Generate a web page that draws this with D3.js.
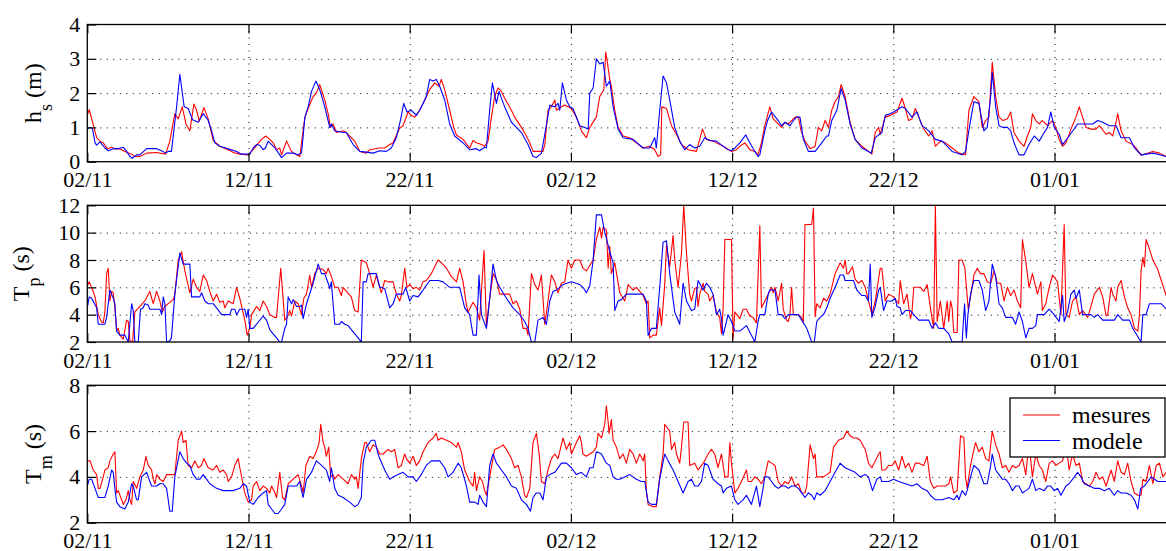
<!DOCTYPE html>
<html>
<head>
<meta charset="utf-8">
<script src="https://cdn.jsdelivr.net/npm/d3@7"></script>
<style>
  body { margin: 0; background: #fff; }
  svg { display: block; }
</style>
</head>
<body>
<svg id="chart" width="1166" height="551"></svg>
<script>
// Time axis: days elapsed since 02/11, tick every 10 days
const dayTicks = [0, 10, 20, 30, 40, 50, 60];
const dayTickLabels = ["02/11", "12/11", "22/11", "02/12", "12/12", "22/12", "01/01"];
const dayRange = [0, 67.5];

// Significant wave height h_s (m): [day, value]
const hsMes = [[0,1.35],[0.12,1.52],[0.58,0.7],[0.79,0.6],[0.99,0.55],[1.24,0.38],[1.51,0.42],[1.71,0.37],[2.02,0.38],[2.33,0.3],[2.75,0.22],[2.95,0.15],[3.26,0.15],[3.68,0.25],[4.3,0.27],[4.86,0.22],[5.12,0.6],[5.43,1.4],[5.64,1.25],[5.89,1.6],[6.12,1.1],[6.36,0.9],[6.61,1.68],[6.78,1.5],[6.94,1.18],[7.23,1.58],[7.5,1.25],[7.81,0.62],[8.22,0.45],[8.84,0.33],[9.05,0.27],[9.46,0.22],[9.98,0.2],[10.29,0.35],[10.8,0.65],[11.07,0.75],[11.32,0.65],[11.53,0.55],[11.74,0.35],[11.94,0.4],[12.05,0.2],[12.36,0.6],[12.67,0.3],[12.98,0.2],[13.18,0.15],[13.5,1.3],[13.7,1.55],[14.01,1.9],[14.21,2.0],[14.42,2.25],[14.73,1.8],[14.94,1.4],[15.08,1.0],[15.25,1.1],[15.45,0.85],[15.87,0.9],[16.07,0.85],[16.59,0.6],[16.8,0.4],[16.9,0.3],[17.31,0.25],[17.52,0.35],[18.14,0.4],[18.45,0.4],[18.66,0.47],[18.97,0.55],[19.38,0.98],[19.59,1.05],[19.9,1.45],[20.1,1.35],[20.31,1.3],[20.62,1.5],[20.93,1.8],[21.24,2.1],[21.55,2.3],[21.82,2.2],[21.96,2.4],[22.17,2.1],[22.48,1.5],[22.73,1.0],[22.9,0.78],[23.31,0.65],[23.72,0.4],[23.93,0.62],[24.14,0.55],[24.45,0.5],[24.65,0.45],[24.86,0.6],[25.07,1.3],[25.27,1.9],[25.48,2.15],[25.69,2.05],[25.89,1.85],[26.31,1.5],[26.51,1.3],[26.93,1.0],[27.24,0.75],[27.45,0.55],[27.65,0.3],[28.27,0.3],[28.38,0.5],[28.58,1.5],[28.79,1.6],[29.0,1.8],[29.1,1.5],[29.41,1.6],[29.62,1.65],[30.03,1.55],[30.34,1.3],[30.65,0.9],[30.96,0.7],[31.17,1.0],[31.58,1.3],[31.79,1.9],[32.04,2.1],[32.16,3.2],[32.26,2.9],[32.41,2.4],[32.51,2.2],[32.72,1.5],[32.93,1.0],[33.24,0.75],[33.65,0.7],[34.06,0.55],[34.48,0.4],[34.89,0.45],[35.2,0.35],[35.41,0.15],[35.57,0.2],[35.64,1.6],[35.93,1.55],[36.24,1.05],[36.55,0.8],[36.86,0.5],[37.27,0.35],[37.79,0.3],[38.16,0.95],[38.41,0.65],[38.82,0.6],[39.44,0.45],[39.96,0.3],[40.27,0.35],[40.48,0.45],[40.79,0.55],[41.1,0.35],[41.41,0.3],[41.61,0.2],[41.82,0.55],[42.03,1.05],[42.34,1.6],[42.55,1.25],[42.86,1.1],[43.07,1.0],[43.28,1.15],[43.49,1.1],[43.69,1.2],[43.9,1.3],[44.11,1.3],[44.28,0.9],[44.52,0.6],[44.84,0.38],[45.15,0.45],[45.35,1.0],[45.56,0.9],[45.77,1.2],[45.98,1.0],[46.18,1.5],[46.39,1.75],[46.6,1.9],[46.76,2.25],[47.01,1.9],[47.32,1.15],[47.63,0.65],[48.05,0.45],[48.46,0.3],[48.67,0.22],[48.88,0.85],[49.09,1.0],[49.19,0.8],[49.5,1.3],[49.81,1.35],[50.02,1.4],[50.23,1.45],[50.54,1.85],[50.75,1.55],[50.95,1.2],[51.16,1.25],[51.37,1.55],[51.58,1.3],[51.89,0.95],[52.2,0.75],[52.41,0.9],[52.61,0.45],[52.92,0.6],[53.24,0.55],[53.65,0.4],[54.07,0.25],[54.48,0.2],[54.69,1.5],[55.0,1.9],[55.31,1.75],[55.52,1.0],[55.73,1.2],[55.93,1.3],[56.14,2.9],[56.35,1.9],[56.56,1.3],[56.8,1.2],[57.08,1.25],[57.28,1.45],[57.49,0.85],[57.8,0.6],[58.11,0.45],[58.32,0.75],[58.53,1.0],[58.63,1.4],[58.84,1.2],[59.05,1.1],[59.25,1.2],[59.57,1.05],[59.88,1.2],[60.08,1.0],[60.29,0.65],[60.5,0.45],[60.71,0.55],[61.02,0.95],[61.33,1.3],[61.54,1.6],[61.74,1.3],[61.95,1.0],[62.26,0.95],[62.57,0.95],[62.78,1.05],[63.2,0.8],[63.4,0.85],[63.61,0.75],[63.82,1.15],[63.92,1.4],[64.13,0.9],[64.44,0.6],[64.85,0.5],[65.06,0.4],[65.37,0.2],[65.48,0.2],[66.1,0.3],[66.51,0.25],[66.93,0.15],[67.5,0.12]];
const hsMod = [[0,0.95],[0.17,1.0],[0.33,0.95],[0.48,0.55],[0.58,0.48],[0.79,0.58],[1.09,0.4],[1.3,0.32],[1.61,0.38],[1.92,0.38],[2.23,0.42],[2.44,0.3],[2.64,0.15],[2.79,0.1],[3.06,0.2],[3.26,0.2],[3.68,0.38],[4.3,0.38],[4.6,0.32],[4.86,0.25],[5.02,0.3],[5.22,0.3],[5.54,1.6],[5.74,2.55],[6.01,1.6],[6.26,1.55],[6.53,1.22],[6.88,1.15],[7.19,1.4],[7.5,1.2],[7.71,0.9],[7.91,0.55],[8.22,0.45],[8.84,0.36],[9.26,0.3],[9.57,0.22],[10.08,0.22],[10.29,0.4],[10.5,0.5],[10.7,0.48],[10.91,0.35],[11.05,0.4],[11.22,0.6],[11.43,0.5],[11.64,0.4],[11.94,0.2],[12.05,0.12],[12.36,0.25],[12.77,0.25],[13.08,0.2],[13.29,0.25],[13.5,1.3],[13.7,1.6],[13.91,2.05],[14.18,2.35],[14.42,2.1],[14.73,1.6],[15.04,1.0],[15.14,1.1],[15.35,0.9],[15.87,0.85],[16.07,0.85],[16.49,0.5],[16.9,0.3],[17.31,0.28],[17.73,0.25],[18.14,0.32],[18.55,0.3],[18.86,0.4],[19.17,0.7],[19.42,1.2],[19.63,1.7],[19.83,1.45],[20.1,1.5],[20.41,1.35],[20.62,1.5],[20.83,1.7],[21.03,1.9],[21.24,2.4],[21.45,2.35],[21.65,2.4],[21.86,2.2],[22.17,1.8],[22.48,1.1],[22.79,0.75],[23.31,0.55],[23.72,0.35],[24.14,0.38],[24.34,0.32],[24.65,0.42],[24.76,0.4],[24.96,1.5],[25.13,2.3],[25.38,1.7],[25.54,2.05],[25.89,1.6],[26.31,1.15],[26.62,1.0],[26.93,0.85],[27.34,0.5],[27.65,0.15],[27.86,0.12],[28.17,0.25],[28.38,0.8],[28.69,1.65],[29.0,1.6],[29.2,1.7],[29.31,1.5],[29.47,2.3],[29.72,1.8],[29.93,1.6],[30.13,1.55],[30.55,1.05],[30.86,1.0],[31.07,0.95],[31.17,2.0],[31.38,2.15],[31.58,3.0],[31.79,2.85],[32.0,2.9],[32.2,2.2],[32.41,2.35],[32.62,1.6],[32.93,0.95],[33.24,0.7],[33.86,0.65],[34.48,0.4],[34.89,0.4],[35.2,0.7],[35.3,0.4],[35.51,1.5],[35.72,2.5],[35.93,2.3],[36.13,1.8],[36.44,1.0],[36.75,0.6],[37.06,0.35],[37.37,0.5],[37.68,0.4],[37.99,0.45],[38.3,0.7],[38.61,0.62],[39.03,0.6],[39.65,0.38],[39.96,0.32],[40.17,0.4],[40.48,0.55],[40.85,0.78],[41.1,0.55],[41.41,0.3],[41.61,0.15],[41.72,0.2],[42.03,0.9],[42.2,1.2],[42.45,1.45],[42.86,1.2],[43.07,1.05],[43.28,1.15],[43.59,1.05],[43.8,1.2],[44.0,1.3],[44.21,1.3],[44.42,0.65],[44.73,0.3],[45.15,0.3],[45.56,0.55],[45.87,0.75],[45.98,0.75],[46.18,1.2],[46.5,1.5],[46.76,2.13],[47.01,1.8],[47.32,1.1],[47.63,0.65],[48.05,0.4],[48.46,0.3],[48.63,0.25],[48.88,0.7],[49.29,0.85],[49.5,1.35],[49.81,1.4],[50.02,1.45],[50.54,1.6],[50.75,1.55],[51.16,1.3],[51.47,1.45],[51.78,1.05],[52.2,0.9],[52.61,0.65],[53.03,0.6],[53.65,0.3],[54.27,0.2],[54.48,0.3],[54.79,1.2],[55.0,1.75],[55.31,1.7],[55.62,0.9],[55.83,1.0],[56.04,1.9],[56.14,2.6],[56.35,1.6],[56.56,1.05],[56.8,1.0],[57.08,1.0],[57.28,0.9],[57.49,0.55],[57.8,0.2],[58.11,0.2],[58.42,0.5],[58.74,0.75],[59.05,0.6],[59.36,0.85],[59.57,1.0],[59.77,1.45],[59.98,1.0],[60.29,0.8],[60.5,0.5],[60.91,0.75],[61.43,1.1],[61.64,1.1],[61.95,1.1],[62.37,1.1],[62.68,1.2],[62.99,1.15],[63.4,1.05],[63.82,1.05],[64.13,0.7],[64.65,0.7],[64.96,0.4],[65.37,0.2],[66.1,0.25],[66.51,0.2],[66.93,0.15],[67.5,0.12]];

// Peak period T_p (s): [day, value]
const tpMes = [[0,6.1],[0.12,6.4],[0.33,5.8],[0.48,5.3],[0.68,4.0],[0.89,3.45],[0.99,3.4],[1.09,4.2],[1.2,7.0],[1.3,7.4],[1.4,5.0],[1.51,5.7],[1.61,5.6],[1.71,4.5],[1.82,2.8],[1.92,3.0],[2.02,2.5],[2.23,2.2],[2.44,3.6],[2.54,3.5],[2.64,2.1],[2.81,2.0],[2.95,4.2],[3.26,4.6],[3.57,5.0],[3.88,5.7],[4.09,4.8],[4.3,5.7],[4.5,5.0],[4.65,4.2],[4.81,4.6],[5.12,4.9],[5.33,5.1],[5.43,5.5],[5.64,8.0],[5.85,8.6],[6.05,7.2],[6.36,5.6],[6.57,6.6],[6.78,6.0],[6.98,5.7],[7.19,6.9],[7.4,6.5],[7.6,5.7],[7.81,5.0],[8.02,5.5],[8.22,4.9],[8.43,5.0],[8.53,4.5],[8.74,5.0],[9.05,4.8],[9.26,6.0],[9.46,5.2],[9.77,3.6],[9.92,2.5],[10.08,3.0],[10.19,4.0],[10.5,4.6],[10.7,4.3],[10.91,5.0],[11.12,4.6],[11.32,4.0],[11.64,3.8],[11.74,3.8],[12.0,7.4],[12.25,3.6],[12.4,3.8],[12.56,4.3],[12.67,3.9],[12.87,5.0],[13.08,4.8],[13.29,4.0],[13.43,5.2],[13.6,5.5],[13.8,6.9],[13.91,6.0],[14.11,7.0],[14.32,7.4],[14.63,7.3],[14.83,7.0],[14.94,7.4],[15.14,6.8],[15.35,6.0],[15.56,6.0],[15.76,5.4],[15.87,6.0],[16.07,5.7],[16.38,5.3],[16.59,4.3],[16.8,4.2],[17.0,8.0],[17.31,7.8],[17.52,7.0],[17.73,6.0],[17.93,6.9],[18.14,6.0],[18.24,5.6],[18.45,6.5],[18.66,6.4],[18.97,6.4],[19.17,5.5],[19.38,5.0],[19.48,5.4],[19.69,7.4],[19.83,6.0],[20.0,6.2],[20.21,5.9],[20.41,6.0],[20.62,5.8],[20.83,6.4],[21.03,6.5],[21.34,7.0],[21.55,7.5],[21.76,8.0],[21.96,7.8],[22.28,7.4],[22.58,6.8],[22.9,6.4],[23.1,7.4],[23.31,6.4],[23.52,4.7],[23.62,4.2],[23.93,4.9],[24.14,4.5],[24.34,3.6],[24.61,8.7],[24.76,3.2],[24.86,4.2],[25.17,7.0],[25.38,6.6],[25.58,5.5],[26.0,5.5],[26.2,5.5],[26.41,4.8],[26.62,5.0],[26.83,4.4],[27.03,3.0],[27.24,3.0],[27.34,2.5],[27.55,7.0],[27.76,6.2],[27.96,5.8],[28.17,6.9],[28.38,3.3],[28.58,5.0],[28.79,6.9],[29.0,6.4],[29.2,5.6],[29.41,6.3],[29.62,6.4],[29.82,8.0],[30.03,7.4],[30.24,8.0],[30.55,8.0],[30.75,7.4],[30.96,7.2],[31.17,7.6],[31.38,8.0],[31.58,9.5],[31.79,10.4],[31.9,9.6],[32.0,10.4],[32.2,10.2],[32.31,7.4],[32.41,9.0],[32.51,7.0],[32.72,7.8],[33.03,5.6],[33.34,5.0],[33.55,6.2],[33.86,5.8],[34.06,6.0],[34.27,5.7],[34.48,5.4],[34.68,4.8],[34.79,5.0],[34.89,2.3],[35.1,2.5],[35.3,2.5],[35.51,4.5],[35.62,3.2],[35.82,6.2],[35.93,9.1],[36.13,7.5],[36.34,9.8],[36.44,8.0],[36.65,6.0],[36.86,8.5],[37.0,12.0],[37.17,8.5],[37.37,5.5],[37.48,5.0],[37.68,5.9],[37.79,6.0],[37.89,4.6],[37.99,5.5],[38.2,6.3],[38.3,5.7],[38.51,5.5],[38.61,5.0],[38.82,5.4],[39.03,4.2],[39.13,4.0],[39.23,3.8],[39.34,2.6],[39.44,4.4],[39.55,9.5],[39.96,9.5],[40.06,2.2],[40.17,4.2],[40.48,3.7],[40.68,4.4],[40.89,4.4],[41.1,3.9],[41.3,3.8],[41.51,3.4],[41.72,10.5],[41.82,4.5],[42.03,5.0],[42.24,5.5],[42.45,6.0],[42.55,5.6],[42.66,6.0],[42.86,5.0],[43.07,6.3],[43.17,4.4],[43.38,3.6],[43.49,3.5],[43.59,4.0],[43.69,6.0],[43.8,4.0],[44.11,4.0],[44.32,3.8],[44.42,3.4],[44.52,10.6],[44.94,10.6],[45.05,11.8],[45.15,3.85],[45.25,4.8],[45.46,4.5],[45.67,5.2],[45.87,5.0],[46.08,5.5],[46.39,7.0],[46.7,7.8],[46.91,7.4],[47.01,8.0],[47.12,7.0],[47.22,7.0],[47.47,7.5],[47.63,6.6],[47.84,6.3],[48.05,6.5],[48.26,6.0],[48.67,4.0],[48.88,5.0],[49.19,7.4],[49.29,7.4],[49.5,5.0],[49.71,5.5],[50.02,5.3],[50.33,4.8],[50.43,6.5],[50.64,4.8],[50.85,5.5],[51.06,3.7],[51.16,4.2],[51.27,6.0],[51.47,6.0],[51.68,6.0],[51.89,5.7],[52.1,6.2],[52.3,4.5],[52.51,3.0],[52.61,12.0],[52.72,3.5],[52.92,5.0],[53.13,3.0],[53.34,5.0],[53.44,3.5],[53.55,5.0],[53.65,4.5],[53.75,2.7],[53.96,2.7],[54.07,8.0],[54.27,8.0],[54.44,7.4],[54.65,4.4],[54.79,5.3],[55.0,6.9],[55.21,7.4],[55.41,7.0],[55.62,7.0],[55.83,6.4],[56.04,6.3],[56.25,7.2],[56.45,6.3],[56.66,6.3],[56.87,5.0],[57.08,6.0],[57.28,5.4],[57.49,5.8],[57.7,5.0],[57.9,4.5],[58.01,9.5],[58.22,7.9],[58.42,6.0],[58.63,7.0],[58.94,5.5],[59.15,6.4],[59.25,4.3],[59.46,4.8],[59.67,6.0],[59.88,6.9],[60.19,6.4],[60.4,4.0],[60.6,10.6],[60.71,4.0],[60.91,3.8],[61.12,5.0],[61.33,5.3],[61.54,4.0],[61.74,4.3],[62.06,3.8],[62.26,4.6],[62.47,5.5],[62.78,6.0],[62.99,5.3],[63.2,3.9],[63.3,4.0],[63.51,6.0],[63.61,5.5],[63.82,5.0],[63.92,6.0],[64.13,6.5],[64.34,5.3],[64.54,4.5],[64.75,4.0],[64.96,3.0],[65.17,2.8],[65.27,4.0],[65.37,7.2],[65.48,8.2],[65.58,7.5],[65.68,9.5],[65.89,8.8],[66.1,8.0],[66.41,7.3],[66.62,6.5],[66.82,5.8],[66.93,5.4],[67.5,5.0]];
const tpMod = [[0,4.5],[0.12,5.3],[0.27,5.2],[0.58,4.5],[0.68,3.3],[1.09,3.3],[1.2,3.8],[1.4,5.8],[1.61,5.2],[1.71,4.8],[1.82,2.8],[2.02,2.5],[2.33,2.5],[2.54,2.0],[2.75,4.8],[2.85,4.3],[2.95,2.0],[3.16,2.0],[3.3,4.4],[3.47,4.5],[3.57,4.8],[3.78,4.7],[3.88,4.4],[4.5,4.4],[4.61,4.0],[4.71,5.3],[4.81,4.8],[4.92,2.0],[5.12,2.1],[5.22,2.3],[5.43,5.5],[5.74,8.5],[5.95,7.7],[6.36,7.7],[6.47,5.3],[6.98,5.3],[7.09,5.6],[7.29,5.0],[7.5,4.8],[7.81,4.8],[8.02,4.5],[8.33,4.0],[8.84,4.0],[8.95,4.4],[9.15,4.4],[9.26,4.0],[9.46,4.4],[9.77,4.4],[9.88,3.8],[9.98,4.4],[10.08,3.0],[10.29,3.0],[10.91,3.9],[11.12,3.6],[11.32,2.9],[11.53,2.6],[11.74,2.3],[11.94,2.0],[12.05,2.0],[12.25,3.0],[12.36,3.3],[12.46,5.3],[12.67,4.8],[12.77,5.1],[12.98,4.6],[13.18,4.6],[13.29,4.7],[13.39,3.7],[13.6,4.8],[14.01,6.3],[14.32,7.7],[14.53,7.0],[14.73,7.0],[14.94,6.3],[15.04,5.9],[15.14,6.4],[15.35,3.3],[15.66,3.3],[15.76,3.5],[15.97,3.3],[16.18,3.2],[16.38,2.9],[16.8,2.3],[17.0,2.0],[17.11,6.4],[17.31,6.4],[17.42,7.0],[17.93,7.0],[18.14,6.0],[18.24,6.0],[18.45,5.9],[18.76,4.5],[18.97,4.8],[19.17,5.5],[19.59,5.5],[19.75,6.0],[20.0,5.0],[20.21,5.4],[20.52,5.3],[20.83,5.8],[21.24,6.5],[21.76,6.5],[22.07,6.4],[22.48,6.0],[23.1,6.0],[23.41,4.5],[23.72,4.0],[23.93,2.5],[24.14,2.5],[24.3,6.9],[24.45,4.0],[24.76,3.0],[24.86,4.0],[25.17,7.7],[25.38,6.5],[25.58,6.0],[26.0,5.2],[26.41,4.5],[26.83,4.0],[27.13,3.5],[27.34,3.0],[27.55,2.0],[27.76,2.0],[27.96,3.6],[28.27,3.8],[28.48,3.3],[28.69,5.0],[28.89,5.7],[29.1,5.8],[29.51,6.2],[30.03,6.4],[30.55,6.2],[30.75,6.0],[30.96,5.6],[31.17,6.1],[31.38,8.0],[31.58,11.3],[31.9,11.3],[32.1,10.0],[32.2,9.6],[32.41,8.6],[32.62,7.8],[32.72,4.3],[32.93,5.0],[33.13,5.1],[33.44,5.5],[34.48,5.5],[34.68,5.0],[34.79,2.5],[35.0,3.0],[35.3,3.0],[35.51,6.0],[35.72,9.3],[35.93,9.4],[36.13,7.0],[36.44,4.2],[36.75,3.3],[36.96,6.3],[37.17,5.0],[37.48,4.3],[37.68,4.4],[37.89,6.5],[38.2,5.8],[38.41,6.3],[38.61,6.0],[38.82,5.5],[39.03,4.0],[39.23,4.4],[39.34,3.7],[39.44,2.5],[39.55,3.0],[39.75,4.0],[39.96,3.5],[40.17,2.8],[40.48,2.8],[40.89,3.2],[41.2,2.5],[41.41,2.0],[41.61,3.5],[41.72,4.0],[42.03,4.0],[42.24,5.5],[42.34,5.8],[42.66,5.8],[42.86,4.0],[43.07,4.0],[43.28,3.7],[43.49,4.0],[43.69,4.0],[44.11,4.0],[44.32,3.6],[44.63,3.0],[44.94,2.0],[45.1,2.0],[45.25,3.5],[45.46,3.8],[45.67,4.0],[45.87,4.5],[46.08,5.2],[46.39,6.0],[46.7,6.9],[46.91,6.9],[47.01,6.5],[47.22,6.5],[47.53,6.5],[47.74,5.8],[48.05,5.4],[48.26,5.4],[48.46,5.0],[48.57,7.7],[48.67,3.8],[48.88,4.6],[49.09,5.8],[49.19,6.0],[49.4,4.3],[49.6,5.0],[49.92,5.0],[50.12,5.2],[50.23,4.6],[50.43,4.5],[50.54,4.0],[50.75,4.3],[51.06,4.3],[51.27,4.0],[51.58,3.6],[52.2,3.6],[52.41,3.0],[52.61,3.4],[52.82,3.0],[53.13,3.0],[53.44,2.6],[53.65,2.0],[54.27,2.0],[54.42,4.8],[54.53,2.3],[54.63,4.0],[54.79,5.5],[55.0,6.5],[55.31,6.5],[55.52,5.8],[55.73,4.3],[55.93,5.0],[56.14,7.7],[56.35,6.8],[56.56,4.8],[56.76,4.5],[56.97,3.8],[57.39,3.8],[57.59,3.3],[57.8,4.2],[58.01,3.5],[58.22,2.3],[58.42,3.0],[58.63,3.0],[58.84,3.2],[58.94,4.0],[59.36,4.0],[59.67,4.4],[59.98,4.0],[60.29,3.5],[60.5,5.4],[60.6,3.5],[60.81,4.2],[61.02,5.5],[61.23,5.8],[61.33,5.2],[61.54,5.8],[61.74,4.0],[61.95,4.0],[62.26,4.0],[62.47,3.8],[62.68,4.0],[62.99,3.6],[63.4,3.6],[63.71,3.6],[63.92,4.0],[64.23,3.6],[64.65,3.6],[64.85,3.0],[65.06,2.6],[65.37,2.0],[65.48,4.0],[65.68,4.0],[65.89,4.8],[66.2,4.8],[66.62,4.8],[66.93,4.4],[67.5,4.4]];

// Mean period T_m (s): [day, value]
const tmMes = [[0,4.7],[0.17,4.7],[0.37,4.3],[0.58,4.1],[0.68,3.5],[0.79,3.5],[0.99,4.0],[1.09,4.3],[1.3,4.4],[1.4,4.7],[1.61,5.0],[1.71,5.1],[1.82,3.3],[1.92,3.4],[2.13,3.0],[2.23,2.8],[2.4,3.0],[2.54,3.4],[2.64,3.0],[2.75,2.8],[2.85,3.8],[3.06,3.5],[3.26,4.0],[3.47,4.3],[3.64,4.9],[3.78,4.5],[3.99,4.3],[4.09,3.9],[4.2,3.7],[4.3,4.1],[4.5,3.9],[4.71,3.8],[4.92,4.1],[5.43,4.1],[5.64,5.6],[5.85,6.0],[5.95,5.5],[6.12,5.6],[6.26,4.5],[6.47,4.4],[6.67,4.7],[6.88,4.4],[7.09,4.5],[7.23,4.8],[7.5,4.4],[7.81,4.3],[8.02,4.5],[8.22,4.2],[8.43,4.3],[8.64,4.1],[8.74,3.8],[8.95,4.0],[9.15,4.5],[9.36,4.8],[9.46,4.4],[9.77,3.3],[9.98,2.9],[10.19,3.0],[10.29,3.6],[10.5,3.8],[10.7,3.4],[10.91,3.6],[11.12,3.5],[11.32,3.3],[11.43,3.6],[11.64,3.3],[11.74,3.1],[11.94,4.2],[12.11,3.1],[12.25,3.0],[12.46,3.7],[12.77,3.9],[13.08,4.1],[13.29,3.6],[13.39,3.3],[13.56,4.5],[13.8,4.9],[14.01,4.8],[14.21,5.1],[14.38,5.5],[14.48,6.3],[14.63,5.5],[14.73,5.3],[14.83,4.9],[14.98,5.3],[15.1,4.0],[15.25,4.1],[15.35,3.9],[15.56,4.1],[15.87,3.9],[16.18,3.7],[16.38,4.1],[16.59,3.9],[16.69,4.0],[16.8,3.5],[17.0,4.8],[17.21,5.5],[17.31,5.5],[17.52,5.1],[17.73,5.4],[17.93,5.3],[18.14,5.0],[18.35,5.0],[18.66,5.2],[18.86,5.1],[19.07,5.2],[19.28,4.4],[19.48,4.5],[19.69,5.0],[19.79,4.8],[20.0,4.6],[20.21,4.9],[20.41,4.5],[20.62,4.7],[20.83,5.1],[21.14,5.5],[21.45,5.7],[21.65,5.9],[21.76,5.6],[21.96,5.7],[22.28,5.6],[22.58,5.5],[22.9,5.3],[23.0,5.5],[23.2,5.1],[23.41,4.3],[23.72,3.8],[23.93,3.6],[24.03,4.2],[24.14,3.4],[24.34,4.0],[24.51,3.8],[24.65,3.4],[24.76,3.2],[24.96,4.0],[25.27,5.2],[25.58,5.3],[25.79,5.4],[26.0,5.2],[26.31,4.8],[26.51,4.4],[26.72,4.5],[26.93,4.0],[27.13,3.2],[27.24,3.1],[27.45,3.5],[27.65,5.5],[27.86,5.9],[28.03,5.0],[28.17,3.8],[28.38,3.7],[28.58,4.3],[28.79,4.8],[29.0,5.0],[29.2,4.8],[29.41,5.4],[29.51,5.7],[29.72,5.2],[29.93,5.5],[30.03,5.0],[30.34,5.5],[30.55,5.8],[30.65,5.5],[30.75,5.0],[30.96,4.9],[31.38,5.1],[31.58,5.3],[31.69,5.9],[31.9,5.7],[32.1,6.3],[32.2,7.1],[32.31,6.4],[32.37,5.9],[32.51,6.5],[32.62,5.6],[32.82,5.3],[33.03,4.8],[33.24,5.0],[33.44,4.6],[33.65,5.2],[33.86,5.0],[34.06,4.6],[34.27,5.0],[34.48,4.7],[34.58,5.0],[34.68,3.4],[34.79,2.8],[35.1,2.7],[35.3,2.7],[35.51,4.0],[35.72,5.0],[35.82,6.3],[36.13,6.0],[36.24,5.2],[36.44,5.5],[36.55,5.0],[36.75,4.6],[36.86,5.3],[37.0,6.4],[37.27,6.4],[37.37,4.5],[37.68,4.6],[37.89,4.3],[38.1,4.5],[38.3,4.7],[38.51,5.0],[38.72,5.2],[38.92,5.0],[39.13,4.4],[39.34,5.0],[39.55,4.0],[39.75,4.0],[39.86,5.5],[39.96,4.6],[40.17,3.3],[40.37,3.5],[40.58,3.8],[40.89,4.3],[41.0,3.8],[41.2,3.8],[41.41,4.0],[41.61,3.9],[41.82,3.7],[42.03,4.0],[42.24,4.7],[42.45,4.6],[42.66,4.5],[42.86,3.8],[43.07,3.6],[43.28,3.8],[43.49,3.7],[43.69,4.0],[43.9,3.6],[44.11,3.7],[44.32,3.3],[44.52,3.3],[44.63,3.6],[44.84,5.4],[45.05,4.8],[45.15,5.0],[45.25,4.0],[45.46,4.0],[45.67,4.0],[45.87,4.1],[46.08,4.2],[46.29,5.3],[46.6,5.6],[46.91,5.7],[47.12,6.0],[47.32,5.8],[47.53,5.7],[47.74,5.7],[47.94,5.6],[48.26,5.2],[48.46,4.6],[48.67,4.4],[48.88,4.7],[49.09,5.0],[49.19,5.1],[49.29,4.3],[49.5,4.3],[49.71,4.5],[49.92,4.5],[50.12,4.7],[50.33,4.3],[50.54,4.9],[50.75,4.4],[50.95,4.6],[51.16,4.2],[51.37,4.6],[51.58,4.6],[51.89,4.5],[52.1,4.9],[52.3,3.8],[52.51,3.5],[52.72,3.6],[52.92,3.6],[53.24,3.6],[53.44,3.7],[53.55,4.0],[53.75,3.3],[53.96,3.4],[54.17,5.8],[54.38,5.7],[54.48,4.0],[54.58,3.5],[54.79,4.5],[55.0,5.2],[55.1,5.5],[55.31,5.1],[55.52,5.3],[55.73,4.8],[55.93,4.7],[56.14,6.0],[56.35,5.4],[56.56,5.0],[56.76,4.4],[56.97,4.5],[57.18,4.2],[57.39,4.5],[57.59,4.4],[57.8,4.5],[58.01,4.8],[58.22,4.1],[58.42,5.5],[58.63,4.0],[58.84,5.0],[59.05,4.5],[59.25,4.3],[59.46,3.8],[59.67,4.6],[59.88,4.7],[60.08,4.5],[60.29,4.6],[60.5,4.7],[60.71,5.5],[60.91,4.3],[61.12,5.0],[61.33,4.5],[61.54,4.6],[61.74,3.8],[61.95,3.7],[62.16,3.6],[62.37,3.8],[62.57,4.2],[62.78,3.9],[62.99,4.0],[63.2,3.6],[63.51,4.3],[63.71,3.8],[63.92,4.7],[64.13,4.2],[64.34,4.1],[64.54,4.6],[64.75,3.8],[64.96,3.3],[65.17,3.2],[65.37,3.2],[65.48,3.9],[65.68,3.8],[65.89,4.5],[66.1,3.7],[66.31,4.5],[66.51,4.6],[66.72,4.0],[66.93,4.2],[67.5,4.3]];
const tmMod = [[0,3.6],[0.12,3.9],[0.27,3.9],[0.48,3.5],[0.68,3.1],[1.09,3.1],[1.3,3.6],[1.51,4.3],[1.61,4.2],[1.71,3.5],[1.82,2.9],[2.02,2.7],[2.33,2.6],[2.54,2.9],[2.75,3.7],[2.85,3.6],[3.06,3.0],[3.16,3.0],[3.37,4.0],[3.68,4.2],[3.88,3.8],[3.99,3.6],[4.3,3.6],[4.5,3.7],[4.71,3.7],[4.92,3.5],[5.12,2.5],[5.27,2.5],[5.43,4.0],[5.74,5.1],[5.95,4.8],[6.16,4.6],[6.36,4.5],[6.57,4.1],[6.78,3.9],[6.98,3.9],[7.19,4.1],[7.4,3.9],[7.6,3.7],[8.02,3.5],[8.43,3.4],[9.05,3.4],[9.46,3.5],[9.67,3.7],[9.88,3.6],[10.08,2.9],[10.29,2.8],[10.6,3.1],[10.91,3.3],[11.12,3.4],[11.22,2.8],[11.43,2.6],[11.64,2.4],[11.84,2.4],[12.05,2.6],[12.25,2.8],[12.46,3.6],[12.77,3.6],[12.98,3.6],[13.18,3.8],[13.29,3.4],[13.39,3.1],[13.6,3.9],[13.91,4.2],[14.21,4.7],[14.53,4.5],[14.83,4.3],[15.04,3.8],[15.14,4.4],[15.35,3.5],[15.56,3.2],[15.87,3.1],[16.28,2.9],[16.59,2.7],[16.8,2.8],[17.0,3.1],[17.11,4.6],[17.31,5.3],[17.62,5.6],[17.83,5.6],[18.04,5.0],[18.14,4.8],[18.45,4.3],[18.76,3.9],[18.97,4.0],[19.28,4.1],[19.59,4.2],[19.9,4.0],[20.21,4.0],[20.41,3.8],[20.72,4.1],[21.03,4.5],[21.34,4.7],[21.86,4.7],[22.17,4.4],[22.38,4.0],[22.69,4.2],[23.0,4.6],[23.2,4.4],[23.52,3.6],[23.72,2.9],[24.03,2.9],[24.24,2.8],[24.34,3.2],[24.55,2.9],[24.76,2.7],[24.96,4.5],[25.17,5.0],[25.38,4.6],[25.69,4.3],[26.0,4.0],[26.31,3.6],[26.62,3.5],[26.93,3.0],[27.24,2.8],[27.49,2.5],[27.65,3.1],[27.86,3.3],[28.07,3.3],[28.27,3.0],[28.48,4.0],[28.69,4.1],[29.0,4.2],[29.41,4.6],[29.72,4.6],[30.03,4.4],[30.34,4.1],[30.65,4.2],[30.96,4.0],[31.17,4.4],[31.38,4.4],[31.58,5.1],[31.9,5.0],[32.2,4.6],[32.41,4.5],[32.62,4.0],[32.82,3.9],[33.03,3.9],[33.34,4.0],[33.65,4.1],[34.06,3.9],[34.37,3.8],[34.58,3.8],[34.79,2.9],[35.0,2.8],[35.3,2.8],[35.51,3.9],[35.82,5.0],[36.03,4.7],[36.34,4.3],[36.65,3.8],[36.96,3.3],[37.27,3.8],[37.48,3.9],[37.68,3.6],[37.89,3.6],[38.1,3.8],[38.3,4.6],[38.51,4.5],[38.82,3.9],[39.13,3.7],[39.34,3.6],[39.44,3.3],[39.65,3.5],[39.96,3.6],[40.17,3.0],[40.37,2.8],[40.68,3.0],[40.89,3.2],[41.2,2.8],[41.51,3.6],[41.72,2.7],[41.92,3.5],[42.03,4.0],[42.24,4.0],[42.45,3.8],[42.66,3.6],[42.86,3.5],[43.07,3.6],[43.28,3.6],[43.49,3.5],[43.69,3.6],[43.9,3.6],[44.11,3.5],[44.32,3.3],[44.52,3.1],[44.73,3.3],[44.94,3.2],[45.1,3.0],[45.25,3.3],[45.46,3.2],[45.77,3.4],[46.08,3.8],[46.39,4.2],[46.7,4.6],[47.01,4.4],[47.32,4.3],[47.63,4.2],[47.94,4.0],[48.26,4.1],[48.46,4.0],[48.71,3.4],[48.98,3.9],[49.19,4.0],[49.29,3.8],[49.71,3.8],[50.02,3.9],[50.33,3.8],[50.75,3.7],[51.16,3.6],[51.47,3.7],[51.78,3.5],[52.1,3.4],[52.3,3.2],[52.61,3.0],[53.03,3.0],[53.44,3.1],[53.75,3.0],[53.96,3.2],[54.07,3.0],[54.27,3.4],[54.48,3.2],[54.58,3.4],[54.79,4.0],[55.0,4.5],[55.31,4.3],[55.62,3.7],[55.83,3.7],[56.04,4.5],[56.14,5.0],[56.35,4.3],[56.56,4.1],[56.76,3.9],[56.97,3.9],[57.18,3.7],[57.39,3.4],[57.59,3.6],[57.8,3.6],[58.01,3.3],[58.22,3.4],[58.42,3.5],[58.63,3.9],[58.84,3.4],[59.05,3.5],[59.36,3.4],[59.57,3.6],[59.77,3.6],[59.98,3.4],[60.19,3.5],[60.4,3.2],[60.71,3.6],[60.91,3.7],[61.23,4.0],[61.43,4.2],[61.64,4.0],[61.85,3.7],[62.16,3.6],[62.47,3.5],[62.78,3.5],[63.09,3.4],[63.4,3.5],[63.71,3.2],[63.92,3.4],[64.13,3.3],[64.44,3.3],[64.75,3.2],[64.96,3.0],[65.17,2.6],[65.34,3.5],[65.58,3.6],[65.79,3.8],[66.0,4.0],[66.2,3.9],[66.41,3.8],[66.72,3.8],[67.5,3.8]];

// Y axes
const hsTicks = [0, 1, 2, 3, 4];
const tpTicks = [2, 4, 6, 8, 10, 12];
const tmTicks = [2, 4, 6, 8];

const seriesNames = ["mesures", "modele"];
const seriesColors = ["#ff0000", "#0000ff"];

const panels = [
  { id: "hs", symbol: "h", sub: "s", unit: "(m)", ticks: hsTicks, mes: hsMes, mod: hsMod, top: 24.5, bottom: 161.7, labelX: 40.5 },
  { id: "tp", symbol: "T", sub: "p", unit: "(s)", ticks: tpTicks, mes: tpMes, mod: tpMod, top: 205.3, bottom: 342.0, labelX: 28.5 },
  { id: "tm", symbol: "T", sub: "m", unit: "(s)", ticks: tmTicks, mes: tmMes, mod: tmMod, top: 385.3, bottom: 522.7, labelX: 40.5 }
];

const serif = '"Liberation Serif"';
const svg = d3.select("#chart");
const x = d3.scaleLinear().domain(dayRange).range([87.3, 1175.4]);
const left = x.range()[0], right = x.range()[1];
const tickLen = 9;
const fontTick = 22;

panels.forEach((p, i) => {
  const y = d3.scaleLinear().domain(d3.extent(p.ticks)).range([p.bottom, p.top]);
  const g = svg.append("g").attr("class", "panel-" + p.id);

  // dotted grid
  const grid = g.append("g").attr("stroke", "#000").attr("stroke-width", 1)
    .attr("stroke-dasharray", "1,5.5").attr("fill", "none");
  grid.selectAll("line.gy").data(p.ticks.slice(1, -1)).join("line")
    .attr("x1", left).attr("x2", right)
    .attr("y1", d => y(d) + 0.5).attr("y2", d => y(d) + 0.5);
  grid.selectAll("line.gx").data(dayTicks.slice(1)).join("line")
    .attr("x1", d => x(d) + 0.5).attr("x2", d => x(d) + 0.5)
    .attr("y1", p.top).attr("y2", p.bottom);

  // data lines, clipped to the axes box
  const clipId = "clip-" + p.id;
  svg.append("clipPath").attr("id", clipId).append("rect")
    .attr("x", left).attr("y", p.top).attr("width", right - left).attr("height", p.bottom - p.top);
  const line = d3.line().x(d => x(d[0])).y(d => y(d[1]));
  const lines = g.append("g").attr("clip-path", `url(#${clipId})`).attr("fill", "none")
    .attr("stroke-width", 1.1).attr("stroke-linejoin", "round");
  [p.mes, p.mod].forEach((s, k) => {
    lines.append("path").datum(s).attr("stroke", seriesColors[k]).attr("d", line);
  });

  // bottom axis with labels, ticks pointing inward
  const xb = d3.axisBottom(x).tickValues(dayTicks)
    .tickFormat((d, j) => dayTickLabels[j]).tickSize(-tickLen).tickPadding(10);
  const gxb = g.append("g").attr("transform", `translate(0,${p.bottom})`).call(xb);
  // top axis: ticks only
  const xt = d3.axisTop(x).tickValues(dayTicks).tickFormat("").tickSize(-tickLen);
  const gxt = g.append("g").attr("transform", `translate(0,${p.top})`).call(xt);
  // left axis
  const yl = d3.axisLeft(y).tickValues(p.ticks).tickFormat(d3.format("d"))
    .tickSize(-tickLen).tickPadding(7);
  const gyl = g.append("g").attr("transform", `translate(${left},0)`).call(yl);

  [gxb, gxt, gyl].forEach(a => {
    a.select(".domain").remove();
    a.selectAll(".tick line").attr("stroke", "#000").attr("stroke-width", 1.2);
    a.selectAll(".tick text").attr("fill", "#000")
      .style("font-family", serif).style("font-size", fontTick + "px");
  });

  // axes box
  g.append("rect").attr("x", left).attr("y", p.top)
    .attr("width", right - left).attr("height", p.bottom - p.top)
    .attr("fill", "none").attr("stroke", "#000").attr("stroke-width", 1.3);

  // y label with subscript, rotated
  const cy = (p.top + p.bottom) / 2;
  const lab = g.append("text")
    .attr("transform", `translate(${p.labelX},${cy}) rotate(-90)`)
    .attr("text-anchor", "middle")
    .style("font-family", serif).style("font-size", "24px");
  lab.append("tspan").text(p.symbol);
  lab.append("tspan").style("font-size", "18px").attr("dy", 11).text(p.sub);
  lab.append("tspan").attr("dy", -11).text("\u00a0" + p.unit);
});

// legend in the lower panel
const legend = svg.append("g").attr("class", "legend");
legend.append("rect").attr("x", 1010).attr("y", 398).attr("width", 155).attr("height", 59)
  .attr("fill", "#fff").attr("stroke", "#000").attr("stroke-width", 1.3);
seriesNames.forEach((name, k) => {
  const ly = 415 + k * 25.5;
  legend.append("line").attr("x1", 1023).attr("x2", 1060).attr("y1", ly).attr("y2", ly)
    .attr("stroke", seriesColors[k]).attr("stroke-width", 1.1);
  legend.append("text").attr("x", 1072).attr("y", ly + 8)
    .style("font-family", serif).style("font-size", "24px").text(name);
});
</script>
</body>
</html>
